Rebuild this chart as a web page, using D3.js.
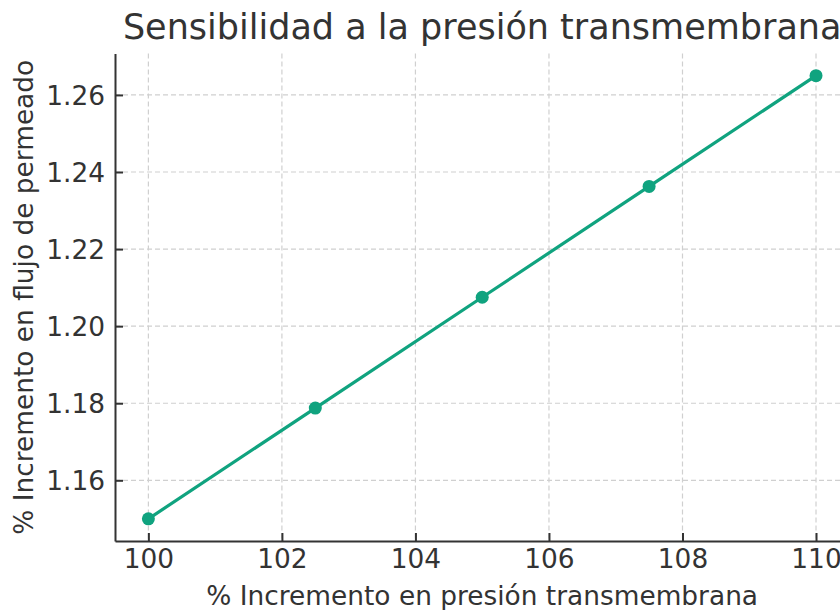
<!DOCTYPE html>
<html><head><meta charset="utf-8">
<script src="https://cdn.jsdelivr.net/npm/d3@7"></script>
<style>body{margin:0;background:#fff;overflow:hidden}svg{display:block}text{font-family:"DejaVu Sans",sans-serif;fill:#333}</style>
</head><body>
<svg id="c" width="840" height="610"></svg>
<script>
const presion = [100, 102.5, 105, 107.5, 110];
const flujo = [1.15, 1.17875, 1.2075, 1.23625, 1.265];
const xTicks = [100, 102, 104, 106, 108, 110];
const yTicks = [1.16, 1.18, 1.20, 1.22, 1.24, 1.26];
const title = "Sensibilidad a la presión transmembrana";
const xLabel = "% Incremento en presión transmembrana";
const yLabel = "% Incremento en flujo de permeado";

const svg = d3.select("#c");
const L = 115, R = 849.4, T = 53.5, B = 541;
const x = d3.scaleLinear().domain([99.5, 110.5]).range([L, R]);
const y = d3.scaleLinear().domain([1.14425, 1.27075]).range([B, T]);
const color = "#10a37f";

const g = svg.append("g");
// grid
g.selectAll(".gx").data(xTicks).join("line")
  .attr("x1", d => x(d)).attr("x2", d => x(d)).attr("y1", T).attr("y2", B)
  .attr("stroke", "#d0d0d0").attr("stroke-width", 1.2).attr("stroke-dasharray", "5,3");
g.selectAll(".gy").data(yTicks).join("line")
  .attr("y1", d => y(d)).attr("y2", d => y(d)).attr("x1", L).attr("x2", R)
  .attr("stroke", "#d0d0d0").attr("stroke-width", 1.2).attr("stroke-dasharray", "5,3");

// axes
const xAxis = d3.axisBottom(x).tickValues(xTicks).tickFormat(d3.format("d")).tickSizeInner(-8).tickSizeOuter(0).tickPadding(0);
const yAxis = d3.axisLeft(y).tickValues(yTicks).tickFormat(d3.format(".2f")).tickSizeInner(-8).tickSizeOuter(0).tickPadding(18);
const gx = svg.append("g").attr("transform", `translate(0,${B})`).call(xAxis);
const gy = svg.append("g").attr("transform", `translate(${L},0)`).call(yAxis);
[gx, gy].forEach(a => {
  a.select(".domain").attr("stroke", "#333").attr("stroke-width", 2);
  a.selectAll(".tick line").attr("stroke", "#333").attr("stroke-width", 2);
  a.selectAll(".tick text").attr("font-size", 26.4).attr("fill", "#333").style("font-family", "DejaVu Sans");
});
gx.selectAll(".tick text").attr("y", 27).attr("dy", null);
gy.selectAll(".tick text").attr("x", -10).attr("dy", "0.36em");

// line
const pts = presion.map((p, i) => [p, flujo[i]]);
svg.append("path").datum(pts)
  .attr("d", d3.line().x(d => x(d[0])).y(d => y(d[1])))
  .attr("fill", "none").attr("stroke", color).attr("stroke-width", 3.2);
svg.selectAll(".pt").data(pts).join("circle")
  .attr("cx", d => x(d[0])).attr("cy", d => y(d[1])).attr("r", 6.5).attr("fill", color);

// text
svg.append("text").attr("x", (L + R) / 2).attr("y", 38.5).attr("text-anchor", "middle")
  .attr("font-size", 35).text(title);
svg.append("text").attr("x", (L + R) / 2).attr("y", 605).attr("text-anchor", "middle")
  .attr("font-size", 26.4).text(xLabel);
svg.append("text").attr("transform", `translate(33,${(T + B) / 2}) rotate(-90)`).attr("text-anchor", "middle")
  .attr("font-size", 26.4).text(yLabel);
</script>
</body></html>
